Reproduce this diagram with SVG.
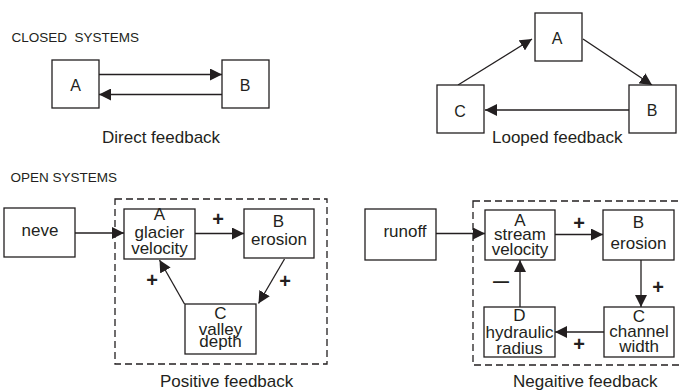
<svg xmlns="http://www.w3.org/2000/svg" width="680" height="390" viewBox="0 0 680 390">
<style>
text{font-family:"Liberation Sans",Arial,sans-serif;fill:#231f20}
.t{font-size:17px;text-anchor:middle}
.h{font-size:13.5px}
.cap{font-size:17px}
.l{font-size:16px;text-anchor:middle}
.p{font-size:20px;font-weight:bold;text-anchor:middle}
rect{fill:#fff;stroke:#231f20;stroke-width:1.3}
.dash{fill:none;stroke:#231f20;stroke-width:1.3;stroke-dasharray:7 4}
line{stroke:#231f20;stroke-width:1.3;marker-end:url(#ah)}
</style>
<defs>
<marker id="ah" markerUnits="userSpaceOnUse" markerWidth="12" markerHeight="12" refX="12" refY="6" orient="auto">
<path d="M0,0 L12,6 L0,12 Z" fill="#231f20"/>
</marker>
</defs>
<rect x="0" y="0" width="680" height="390" style="stroke:none"/>
<text class="h" x="11.5" y="42" xml:space="preserve">CLOSED  SYSTEMS</text>
<text class="cap" x="102" y="143">Direct feedback</text>
<text class="cap" x="492" y="143">Looped feedback</text>
<text class="h" x="10.5" y="182">OPEN SYSTEMS</text>
<text class="cap" x="160" y="386.5">Positive feedback</text>
<text class="cap" x="513" y="386.5">Negaitive feedback</text>
<rect class="dash" x="115" y="199" width="212" height="165"/>
<rect class="dash" x="473" y="201" width="230" height="164"/>
<g id="connectors">
<line x1="99" y1="74.5" x2="222" y2="74.5"/>
<line x1="222" y1="94.5" x2="99" y2="94.5"/>
<line x1="458" y1="85" x2="532" y2="39"/>
<line x1="583" y1="39" x2="652" y2="85"/>
<line x1="629" y1="110" x2="485" y2="110"/>
<line x1="75" y1="233" x2="124" y2="233"/>
<line x1="195" y1="233.5" x2="244" y2="233.5"/>
<line x1="284.5" y1="259" x2="258.5" y2="303.5"/>
<line x1="184.5" y1="304" x2="159.5" y2="260"/>
<line x1="436" y1="233.5" x2="485" y2="233.5"/>
<line x1="555" y1="234.5" x2="603" y2="234.5"/>
<line x1="641" y1="260" x2="641" y2="307"/>
<line x1="604" y1="332" x2="555" y2="332"/>
<line x1="520" y1="307" x2="520" y2="260"/>
</g>
<g id="cA"><rect x="52" y="60" width="47" height="48"/><text class="l" x="75.5" y="90.5">A</text></g>
<g id="cB"><rect x="222" y="60" width="47" height="48"/><text class="l" x="245" y="90.5">B</text></g>
<g id="lA"><rect x="535" y="13" width="47" height="48"/><text class="l" x="557" y="44">A</text></g>
<g id="lC"><rect x="437" y="85" width="47" height="48"/><text class="l" x="460" y="117">C</text></g>
<g id="lB"><rect x="629" y="85" width="47" height="48"/><text class="l" x="652" y="116">B</text></g>
<g id="neve"><rect x="4" y="208" width="71" height="49"/><text class="t" x="40" y="236">neve</text></g>
<g id="pA"><rect x="124" y="209" width="71" height="50"/><text class="t" x="159.5" y="220">A</text><text class="t" x="159.5" y="237.5">glacier</text><text class="t" x="159.5" y="254">velocity</text></g>
<g id="pB"><rect x="244" y="209" width="70" height="49"/><text class="t" x="278.5" y="226.5">B</text><text class="t" x="279" y="245">erosion</text></g>
<g id="pC"><rect x="185" y="304" width="71" height="50"/><text class="t" x="220.5" y="318.5">C</text><text class="t" x="220.5" y="335">valley</text><text class="t" x="220.5" y="347">depth</text></g>
<text class="p" x="218" y="226">+</text>
<text class="p" x="285" y="288">+</text>
<text class="p" x="152" y="287">+</text>
<g id="runoff"><rect x="365" y="209" width="71" height="51"/><text class="t" x="405" y="237">runoff</text></g>
<g id="nA"><rect x="485" y="210" width="70" height="50"/><text class="t" x="520" y="225.5">A</text><text class="t" x="520" y="240">stream</text><text class="t" x="520" y="254.5">velocity</text></g>
<g id="nB"><rect x="603" y="210" width="71" height="50"/><text class="t" x="638.5" y="228">B</text><text class="t" x="638.5" y="249">erosion</text></g>
<g id="nC"><rect x="604" y="307" width="70" height="50"/><text class="t" x="639" y="322">C</text><text class="t" x="639" y="337">channel</text><text class="t" x="639" y="351.5">width</text></g>
<g id="nD"><rect x="484" y="307" width="71" height="50"/><text class="t" x="519.5" y="321">D</text><text class="t" x="519.5" y="337.5">hydraulic</text><text class="t" x="519.5" y="353.5">radius</text></g>
<text class="p" x="579" y="230">+</text>
<text class="p" x="658" y="294">+</text>
<text class="p" x="579" y="351">+</text>
<text class="p" x="501" y="287" style="font-size:16px">—</text>
</svg>
